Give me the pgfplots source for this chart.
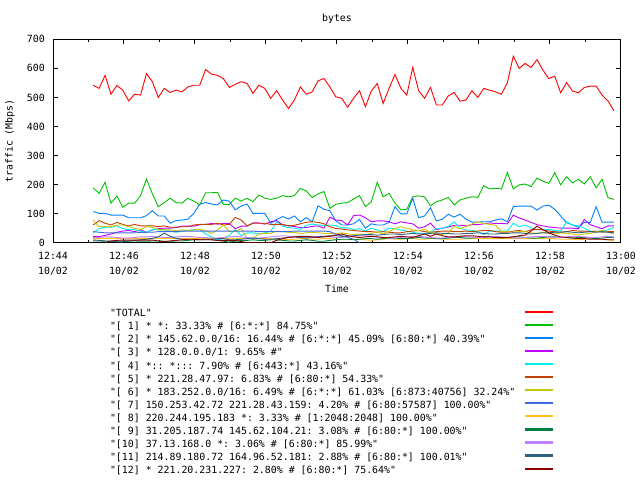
\documentclass[border=0pt]{standalone}
\usepackage{fontspec}
\setmonofont{DejaVu Sans Mono}
\usepackage{pgfplots}
\pgfplotsset{compat=1.18}
\usepackage{pgfplotstable}
\newcommand\gfont{\ttfamily\fontsize{9.9bp}{12bp}\selectfont}
\newcommand\gfontt{\ttfamily\fontsize{9.9bp}{15bp}\selectfont}
\definecolor{cA}{HTML}{FF0000}
\definecolor{cB}{HTML}{00C000}
\definecolor{cC}{HTML}{0080FF}
\definecolor{cD}{HTML}{C000FF}
\definecolor{cE}{HTML}{00EEEE}
\definecolor{cF}{HTML}{C04000}
\definecolor{cG}{HTML}{C8C800}
\definecolor{cH}{HTML}{4169E1}
\definecolor{cI}{HTML}{FFC020}
\definecolor{cJ}{HTML}{008040}
\definecolor{cK}{HTML}{C080FF}
\definecolor{cL}{HTML}{306080}
\definecolor{cM}{HTML}{8B0000}
\pgfplotstableread{
t tot s1 s2 s3 s4 s5 s6 s7 s8 s9 s10 s11 s12
68 542 189 107 21 34 61 78 38 14 6 18 9 nan
78 531 170 101 21 48 76 55 36 14 6 18 8 nan
88 576 208 101 25 53 67 56 34 15 5 20 6 0
98 511 136 95 30 53 61 55 34 15 5 20 5 6
108 541 161 95 36 58 70 61 34 15 5 18 3 8
118 525 122 95 40 48 63 61 34 15 6 16 3 9
128 488 136 86 42 45 58 55 34 15 6 16 5 9
138 511 136 86 38 45 63 49 34 15 6 18 8 9
148 508 162 86 44 39 58 46 35 15 5 20 10 9
158 582 219 93 36 36 58 55 36 15 5 20 12 9
168 554 168 110 44 45 58 53 36 15 6 22 15 9
178 500 124 92 48 45 55 44 38 15 6 20 20 6
188 531 138 92 50 45 58 44 38 15 5 18 33 4
198 517 153 67 50 40 53 44 38 15 5 18 22 6
208 525 138 76 52 36 53 41 38 15 6 20 15 8
218 519 136 78 57 39 55 44 40 15 6 22 12 10
228 536 153 81 57 42 55 42 40 15 8 22 10 12
238 542 143 101 57 45 61 44 40 15 10 20 10 12
248 542 130 133 62 45 63 46 40 15 10 18 10 10
258 596 172 138 63 30 63 42 40 15 10 18 12 10
268 580 172 133 66 20 63 32 40 15 10 16 12 10
278 576 173 130 64 10 67 44 40 15 8 16 14 8
288 565 132 147 66 15 61 61 40 15 5 18 14 8
298 534 132 143 66 25 63 38 40 15 2 20 10 8
308 545 153 113 48 45 87 38 40 15 5 22 10 8
318 554 143 126 57 24 78 49 40 15 8 20 12 4
328 548 153 133 57 34 58 15 40 15 8 18 14 0
338 514 141 101 68 34 67 15 40 14 10 16 16 0
348 542 164 101 68 30 67 30 38 14 8 16 14 0
358 531 153 101 64 34 67 32 38 14 8 18 12 0
368 497 149 67 72 40 63 32 38 14 10 20 12 0
378 523 153 80 76 72 63 40 38 12 10 22 14 8
388 491 162 90 62 57 63 38 38 12 8 24 16 14
398 462 158 82 58 52 58 36 38 10 6 22 18 18
408 491 162 92 56 50 60 35 40 12 6 20 20 20
418 536 187 72 52 46 65 32 40 14 8 18 18 22
428 511 178 86 52 60 70 34 40 14 10 18 16 22
438 519 156 72 56 64 72 36 40 12 8 20 18 20
448 557 168 127 58 61 70 34 40 12 5 22 20 18
458 565 176 115 50 59 65 32 40 14 5 22 22 20
468 536 118 110 88 61 55 32 38 14 8 20 24 22
478 502 132 75 78 59 49 30 30 12 10 18 24 26
488 497 136 61 76 51 47 34 24 10 12 18 22 30
498 466 138 61 61 51 44 30 18 10 12 20 22 24
508 497 150 65 93 46 42 28 12 12 10 22 24 20
518 523 162 80 95 48 40 30 0 12 12 24 26 18
528 468 124 50 86 40 38 28 nan 10 14 24 28 20
538 522 141 65 72 50 38 32 nan 8 14 22 28 22
548 548 208 61 75 44 36 38 nan 10 12 20 26 20
558 479 158 61 75 38 38 30 nan 12 14 18 28 18
568 531 170 70 72 50 36 38 nan 14 16 16 30 18
578 579 136 124 65 48 34 49 nan 12 16 16 30 20
588 531 113 99 72 44 34 55 nan 12 14 18 28 22
598 508 115 99 68 40 38 50 nan 14 14 20 30 20
608 603 158 153 65 36 40 44 nan 14 16 22 32 18
618 523 161 86 50 32 42 42 nan 12 18 22 30 24
628 497 158 92 55 32 38 46 nan 12 16 20 30 30
638 534 127 120 67 36 36 36 nan 14 16 18 32 22
648 474 141 75 45 48 38 30 nan 14 14 16 34 30
658 474 147 81 50 50 40 28 nan 12 14 16 32 24
668 505 156 98 54 56 40 34 nan 12 16 18 32 20
678 517 130 88 60 72 38 56 nan 12 18 20 30 20
688 487 147 98 60 50 38 48 nan 12 18 22 30 22
698 491 153 81 58 43 40 56 nan 14 16 22 32 24
708 523 158 71 62 43 38 64 nan 14 16 20 32 24
718 500 156 71 62 38 40 72 nan 14 18 18 34 22
728 531 196 72 65 28 42 66 nan 14 20 18 32 20
738 525 185 72 68 40 42 63 nan 14 22 20 30 20
748 519 187 78 66 40 38 60 nan 14 18 22 30 18
758 511 185 82 66 40 36 38 nan 14 16 20 32 18
768 551 242 72 65 40 36 38 nan 14 18 18 32 18
778 642 185 124 95 67 40 36 nan 14 20 16 34 20
788 600 199 126 85 55 42 38 nan 14 20 16 34 24
798 617 202 126 78 61 38 38 nan 14 18 18 32 26
808 603 193 126 70 52 44 34 nan 14 16 20 30 40
818 630 222 112 62 45 46 32 nan 14 16 22 32 57
828 594 212 126 58 45 44 36 nan 14 18 22 34 45
838 565 204 129 54 45 40 32 nan 14 20 20 34 34
848 573 241 115 52 42 38 30 nan 14 20 18 36 26
858 516 199 92 50 40 36 34 nan 12 18 18 36 20
868 551 227 69 50 72 38 32 nan 12 18 20 38 18
878 522 206 61 50 61 42 30 nan 12 16 22 36 16
888 516 218 53 48 58 40 26 nan 10 18 22 34 14
898 534 202 70 80 50 40 30 nan 12 18 20 36 14
908 539 227 70 62 40 38 32 nan 14 16 18 38 12
918 539 189 124 55 38 40 38 nan 14 14 18 36 12
928 508 218 71 48 40 36 42 nan 12 16 20 38 12
938 488 155 71 58 44 38 36 nan 10 18 22 36 10
948 454 149 71 58 53 38 30 nan 6 18 20 34 10
}\datatable
\begin{document}
\begin{tikzpicture}
\path[use as bounding box] (0bp,0bp) rectangle (640bp,480bp);
\begin{axis}[
  at={(53bp,237.3bp)}, anchor=south west,
  scale only axis, width=568bp, height=203.4bp,
  xmin=0, xmax=960, ymin=0, ymax=700,
  xtick={0,120,240,360,480,600,720,840,960},
  xticklabels={{12:44\\10/02},{12:46\\10/02},{12:48\\10/02},{12:50\\10/02},{12:52\\10/02},{12:54\\10/02},{12:56\\10/02},{12:58\\10/02},{13:00\\10/02}},
  minor xtick={60,180,300,420,540,660,780,900},
  ytick={0,100,200,300,400,500,600,700},
  tick align=inside,
  major tick length=5bp, minor tick length=3bp,
  tick style={black, line width=1bp},
  axis line style={line width=1bp},
  ticklabel style={font=\gfont},
  xticklabel style={align=center, font=\gfontt, inner sep=0pt, yshift=-9bp},
  yticklabel style={inner sep=0pt, xshift=-8bp},
  /pgf/number format/assume math mode=true,
  title={bytes}, title style={at={(axis description cs:0.5,1.0703)}, anchor=center, font=\gfont},
  xlabel={Time}, xlabel style={at={(axis description cs:0.5,-0.2276)}, anchor=center, font=\gfont},
  ylabel={traffic (Mbps)}, ylabel style={at={(axis description cs:-0.0757,0.5)}, anchor=center, font=\gfont},
  legend style={at={(axis description cs:0.1,-0.3284)}, anchor=north west, draw=none, fill=none, font=\gfont, inner sep=0pt, column sep=9bp, row sep=4.08bp, nodes={inner sep=0pt, text height=7bp, text depth=2bp}},
  legend cell align=left,
  legend plot pos=right,
  legend image code/.code={\draw[#1, line width=2.2bp] (0bp,2.5bp) -- (28bp,2.5bp);},
  unbounded coords=jump,
  every axis plot/.append style={line width=0.9bp, mark=none},
]
\addplot[color=cA] table[x=t,y=tot]{\datatable}; \addlegendentry{"TOTAL"}
\addplot[color=cB] table[x=t,y=s1]{\datatable}; \addlegendentry{"[ 1] * *: 33.33\% \# [6:*:*] 84.75\%"}
\addplot[color=cC] table[x=t,y=s2]{\datatable}; \addlegendentry{"[ 2] * 145.62.0.0/16: 16.44\% \# [6:*:*] 45.09\% [6:80:*] 40.39\%"}
\addplot[color=cD] table[x=t,y=s3]{\datatable}; \addlegendentry{"[ 3] * 128.0.0.0/1: 9.65\% \#"}
\addplot[color=cE] table[x=t,y=s4]{\datatable}; \addlegendentry{"[ 4] *:: *::: 7.90\% \# [6:443:*] 43.16\%"}
\addplot[color=cF] table[x=t,y=s5]{\datatable}; \addlegendentry{"[ 5] * 221.28.47.97: 6.83\% \# [6:80:*] 54.33\%"}
\addplot[color=cG] table[x=t,y=s6]{\datatable}; \addlegendentry{"[ 6] * 183.252.0.0/16: 6.49\% \# [6:*:*] 61.03\% [6:873:40756] 32.24\%"}
\addplot[color=cH] table[x=t,y=s7]{\datatable}; \addlegendentry{"[ 7] 150.253.42.72 221.28.43.159: 4.20\% \# [6:80:57587] 100.00\%"}
\addplot[color=cI] table[x=t,y=s8]{\datatable}; \addlegendentry{"[ 8] 220.244.195.183 *: 3.33\% \# [1:2048:2048] 100.00\%"}
\addplot[color=cJ] table[x=t,y=s9]{\datatable}; \addlegendentry{"[ 9] 31.205.187.74 145.62.104.21: 3.08\% \# [6:80:*] 100.00\%"}
\addplot[color=cK] table[x=t,y=s10]{\datatable}; \addlegendentry{"[10] 37.13.168.0 *: 3.06\% \# [6:80:*] 85.99\%"}
\addplot[color=cL] table[x=t,y=s11]{\datatable}; \addlegendentry{"[11] 214.89.180.72 164.96.52.181: 2.88\% \# [6:80:*] 100.01\%"}
\addplot[color=cM] table[x=t,y=s12]{\datatable}; \addlegendentry{"[12] * 221.20.231.227: 2.80\% \# [6:80:*] 75.64\%"}
\end{axis}
\end{tikzpicture}
\end{document}
